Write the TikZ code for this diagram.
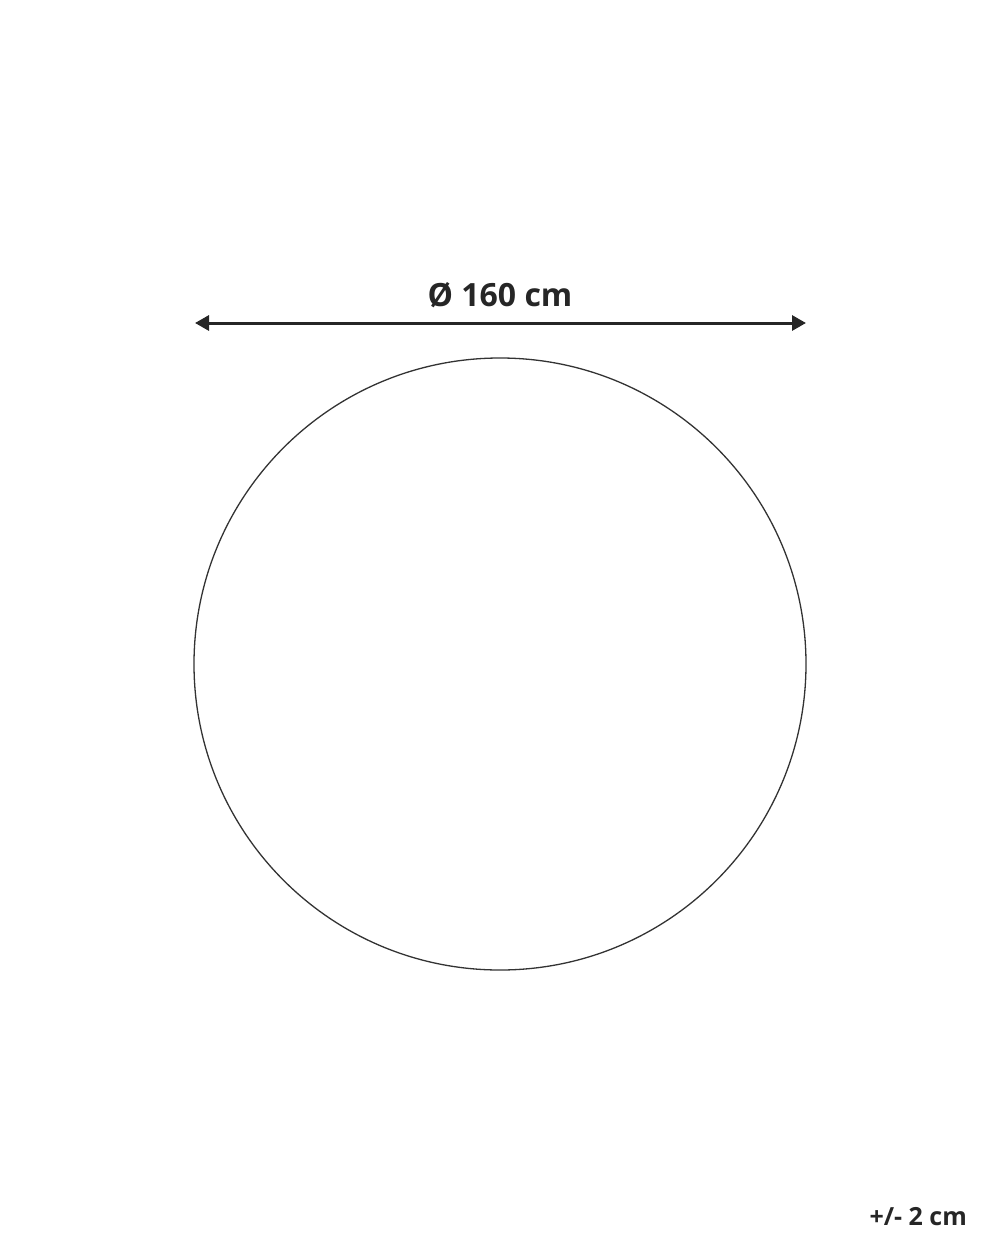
\documentclass[tikz,border=0pt]{standalone}
\usepackage{fontspec}
\setmainfont{Open Sans}
\usetikzlibrary{positioning}
\usetikzlibrary{arrows.meta}
\tikzset{lbl/.style={inner sep=0pt,font=\bfseries,text=black!85}}
\tikzset{>={Triangle[length=14pt,width=15pt]}}

\begin{document}
\begin{tikzpicture}[x=1pt, y=-1pt]
        \useasboundingbox (0,0) rectangle (1000,1250);
        \node[circle, draw=black!80, line width=1.3pt, minimum size=612pt, inner sep=0pt] (rug) at (500, 664) {};
        \coordinate (L) at (195, 323);
        \coordinate (R) at (806, 323);
        \draw[<->, line width=3pt, black!85] (L) -- (R);
        \node[lbl, anchor=base, font=\fontsize{32}{36}\selectfont\bfseries] (dim) at (500, 306) {Ø 160 cm};
        \node[lbl, anchor=base east, font=\fontsize{25}{30}\selectfont\bfseries] (tol) at (967, 1225) {+/- 2 cm};
    \end{tikzpicture}
\end{document}
